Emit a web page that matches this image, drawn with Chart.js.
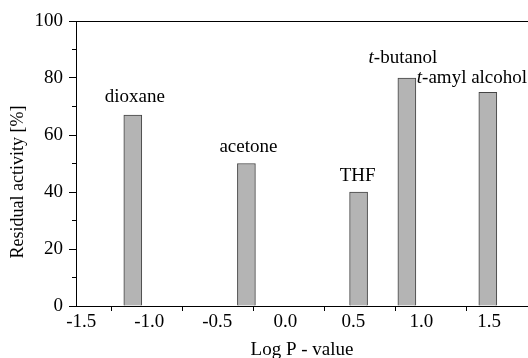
<!DOCTYPE html>
<html>
<head>
<meta charset="utf-8">
<title>Residual activity vs Log P</title>
<script src="https://cdn.jsdelivr.net/npm/chart.js@4.4.1/dist/chart.umd.min.js"></script>
<style>
  html, body { margin: 0; padding: 0; background: #fff; }
  #chart { display: block; }
</style>
</head>
<body>
<canvas id="chart" width="528" height="358"></canvas>
<script>
  // Values: solvent, its log P, residual activity (%)
  const SOLVENTS = ["dioxane", "acetone", "THF", "t-butanol", "t-amyl alcohol"];
  const LOG_P = [-1.1, -0.3, 0.49, 0.83, 1.4];
  const ACTIVITY = [67, 50, 40, 80, 75];

  // Axis ticks. The original figure has its x labels and x tick marks slightly out of step.
  const X_LABEL_TICKS = [-1.5, -1.0, -0.5, 0.0, 0.5, 1.0, 1.5];
  const X_MARK_TICKS = [-1.25, -0.75, -0.25, 0.25, 0.75, 1.25];
  const Y_TICKS = [0, 20, 40, 60, 80, 100];
  const Y_MINOR_TICKS = [10, 30, 50, 70, 90];

  const INK = "#000";
  const SERIF = "'Liberation Serif', 'Times New Roman', serif";
  Chart.defaults.font.family = SERIF;
  Chart.defaults.color = INK;

  // label placement relative to each bar: dx from bar centre, gap above bar top
  const LABEL_POS = [
    { dx: 2, gap: 13, align: "center" },
    { dx: 2, gap: 12, align: "center" },
    { dx: -1, gap: 11, align: "center" },
    { dx: -4, gap: 15, align: "center" },
    { dx: -71, gap: 9, align: "left" },
  ];

  function drawName(ctx, name, x, y, align) {
    const font = "19px " + SERIF;
    // leading "t" of t-butanol / t-amyl alcohol is italic
    const parts = /^t-/.test(name) ? [["t", "italic "], [name.slice(1), ""]] : [[name, ""]];
    let total = 0;
    parts.forEach(([t, st]) => { ctx.font = st + font; total += ctx.measureText(t).width; });
    let cx = align === "left" ? x : x - total / 2;
    ctx.textAlign = "left";
    ctx.textBaseline = "alphabetic";
    parts.forEach(([t, st]) => {
      ctx.font = st + font;
      ctx.fillText(t, cx, y);
      cx += ctx.measureText(t).width;
    });
  }

  const annotate = {
    id: "annotate",
    afterDraw(chart) {
      const { ctx, scales: { x, y } } = chart;
      ctx.save();
      ctx.fillStyle = INK;
      SOLVENTS.forEach((name, i) => {
        const p = LABEL_POS[i];
        const px = x.getPixelForValue(LOG_P[i]) + p.dx;
        const py = y.getPixelForValue(ACTIVITY[i]) - p.gap;
        drawName(ctx, name, px, py, p.align);
      });
      // y title sits a bit below the axis middle in the original
      ctx.translate(18, 182);
      ctx.rotate(-Math.PI / 2);
      ctx.font = "18px " + SERIF;
      ctx.textAlign = "center";
      ctx.textBaseline = "middle";
      ctx.fillText("Residual activity [%]", 0, 0);
      ctx.restore();
    },
  };

  const tickFont = { family: SERIF, size: 19 };
  const X_MAX = 1.683;               // main scale: -1.5 at the left edge, 142 px per unit
  const XL_MIN = -1.539, XL_MAX = 1.785; // label scale fitted to where the labels sit

  new Chart(document.getElementById("chart").getContext("2d"), {
    type: "bar",
    data: {
      datasets: [{
        data: LOG_P.map((v, i) => ({ x: v, y: ACTIVITY[i] })),
        backgroundColor: "#b4b4b4",
        borderColor: "#444",
        borderWidth: 1,
        barThickness: 18,
        xAxisID: "x",
        yAxisID: "y",
      }],
    },
    options: {
      responsive: false,
      animation: false,
      devicePixelRatio: 1,
      layout: { padding: { top: 21, left: 0, right: 0, bottom: 0 } },
      plugins: { legend: { display: false }, tooltip: { enabled: false } },
      scales: {
        x: {
          type: "linear", position: "bottom", weight: 0,
          min: -1.5, max: X_MAX, offset: false,
          afterBuildTicks: (s) => { s.ticks = X_MARK_TICKS.map((v) => ({ value: v })); },
          ticks: { display: false },
          grid: { offset: false, drawOnChartArea: false, tickLength: 5, tickColor: INK, tickWidth: 1 },
          border: { display: true, color: INK, width: 1 },
          afterFit: (s) => { s.height = 5; },
        },
        xl: {
          type: "linear", position: "bottom", weight: 1,
          min: XL_MIN, max: XL_MAX, offset: false,
          afterBuildTicks: (s) => { s.ticks = X_LABEL_TICKS.map((v) => ({ value: v })); },
          ticks: { font: tickFont, color: INK, padding: 0, maxRotation: 0, autoSkip: false, callback: (v) => Number(v).toFixed(1) },
          grid: { display: false, drawTicks: false },
          border: { display: false },
          title: { display: true, text: "Log P - value", font: { family: SERIF, size: 19 }, color: INK, padding: { top: 0, bottom: -3 } },
          afterFit: (s) => { s.height = 47; },
        },
        xt: {
          type: "linear", position: "top",
          min: -1.5, max: X_MAX,
          ticks: { display: false },
          grid: { display: false, drawTicks: false },
          border: { display: true, color: INK, width: 1 },
          afterFit: (s) => { s.height = 0; },
        },
        y: {
          type: "linear", position: "left", weight: 1,
          min: 0, max: 100,
          afterBuildTicks: (s) => { s.ticks = Y_TICKS.map((v) => ({ value: v })); },
          ticks: { font: tickFont, color: INK, padding: 6 },
          grid: { drawOnChartArea: false, tickLength: 7, tickColor: INK },
          border: { display: true, color: INK, width: 1 },
          afterFit: (s) => { s.width = 76; },
        },
        ym: {
          type: "linear", position: "left", weight: 0,
          min: 0, max: 100,
          afterBuildTicks: (s) => { s.ticks = Y_MINOR_TICKS.map((v) => ({ value: v })); },
          ticks: { display: false },
          grid: { drawOnChartArea: false, tickLength: 4, tickColor: INK },
          border: { display: false },
          afterFit: (s) => { s.width = 0; },
        },
      },
    },
    plugins: [annotate],
  });
</script>
</body>
</html>
